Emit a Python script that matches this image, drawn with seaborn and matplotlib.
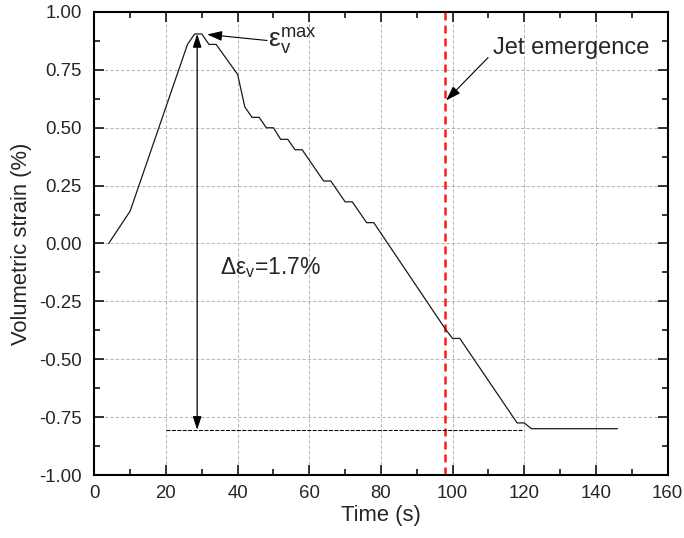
import matplotlib
matplotlib.use("Agg")
import matplotlib.pyplot as plt
from matplotlib.ticker import MultipleLocator, FormatStrFormatter
import seaborn as sns
import pandas as pd

# ---- data ----
time_s = [4, 10, 26, 28, 30, 32, 34, 40, 42, 44, 46, 48, 50, 52, 54, 56, 58,
          64, 66, 70, 72, 76, 78, 98, 100, 102, 118, 120, 122, 146]
strain = [0.00, 0.14, 0.86, 0.905, 0.905, 0.86, 0.86, 0.73, 0.59, 0.545, 0.545,
          0.50, 0.50, 0.45, 0.45, 0.405, 0.405, 0.27, 0.27, 0.18, 0.18, 0.09,
          0.09, -0.37, -0.41, -0.41, -0.775, -0.775, -0.80, -0.80]
x_ticks = [0, 20, 40, 60, 80, 100, 120, 140, 160]
y_ticks = [-1.00, -0.75, -0.50, -0.25, 0.00, 0.25, 0.50, 0.75, 1.00]
jet_time = 98
peak_time = 28.7
peak_strain = 0.905
final_strain = -0.805
ref_line_start = 20
ref_line_end = 119.3

sns.set_style("ticks")
plt.rcParams["font.family"] = ["Liberation Sans", "DejaVu Sans"]
plt.rcParams["mathtext.fontset"] = "custom"
plt.rcParams["mathtext.rm"] = "Liberation Sans"
plt.rcParams["mathtext.it"] = "Liberation Sans"
plt.rcParams["mathtext.bf"] = "Liberation Sans:bold"
plt.rcParams["axes.unicode_minus"] = False

fig = plt.figure(figsize=(6.84, 5.38), dpi=100)
ax = fig.add_axes([0.1379, 0.1171, 0.976 - 0.1379, 0.9777 - 0.1171])

df = pd.DataFrame({"Time (s)": time_s, "Volumetric strain (%)": strain})
sns.lineplot(data=df, x="Time (s)", y="Volumetric strain (%)", ax=ax,
             color="#1a1a1a", lw=0.9, estimator=None, sort=False, zorder=3)

ax.set_xlim(0, 160)
ax.set_ylim(-1, 1)
ax.set_xticks(x_ticks)
ax.set_yticks(y_ticks)
ax.yaxis.set_major_formatter(FormatStrFormatter("%.2f"))
ax.xaxis.set_minor_locator(MultipleLocator(10))
ax.yaxis.set_minor_locator(MultipleLocator(0.125))

ax.grid(True, which="major", color="#a8a8a8", ls=(0, (4, 2.4)), lw=0.6)
ax.set_axisbelow(True)

ax.tick_params(which="both", direction="in", top=True, right=True,
               width=1.1, color="black")
ax.tick_params(which="major", length=7.5, labelsize=13.4)
ax.tick_params(axis="x", which="major", pad=7)
ax.tick_params(axis="y", which="major", pad=9)
ax.tick_params(which="minor", length=4)
for sp in ax.spines.values():
    sp.set_linewidth(1.5)
    sp.set_color("black")

ax.set_xlabel("Time (s)", fontsize=15.8, labelpad=2)
ax.set_ylabel("Volumetric strain (%)", fontsize=15.8, labelpad=5)

# jet emergence line
ax.axvline(jet_time, color="#ff1a1a", lw=1.8, ls=(0, (3.2, 2.0)), zorder=2)

# reference dashed line at final strain
ax.plot([ref_line_start, ref_line_end], [final_strain, final_strain],
        color="black", lw=0.75, ls=(0, (3.8, 1.4)), zorder=2)

# double arrow for delta strain
ax.annotate("", xy=(peak_time, peak_strain), xytext=(peak_time, final_strain),
            arrowprops=dict(arrowstyle="<|-|>,head_length=0.4,head_width=0.13",
                            mutation_scale=20, color="black", lw=0.9,
                            shrinkA=0, shrinkB=0), zorder=4)
ax.text(35.1, -0.131, r"$\Delta$ε$_\mathregular{v}$=1.7%", fontsize=16.5,
        ha="left", va="baseline")

# epsilon max annotation
ax.annotate("", xy=(31.5, 0.903), xytext=(48.2, 0.877),
            arrowprops=dict(arrowstyle="-|>,head_length=0.45,head_width=0.15",
                            mutation_scale=20, color="black", lw=0.8,
                            shrinkA=0, shrinkB=0), zorder=4)
ax.text(48.5, 0.877, r"$\mathregular{ε_v^{max}}$", fontsize=19,
        ha="left", va="center")

# jet emergence annotation
ax.annotate("", xy=(98.2, 0.618), xytext=(109.9, 0.803),
            arrowprops=dict(arrowstyle="-|>,head_length=0.45,head_width=0.15",
                            mutation_scale=20, color="black", lw=0.8,
                            shrinkA=0, shrinkB=0), zorder=4)
ax.text(111.3, 0.819, "Jet emergence", fontsize=17, ha="left", va="baseline")

fig.savefig("out.png", dpi=100)
